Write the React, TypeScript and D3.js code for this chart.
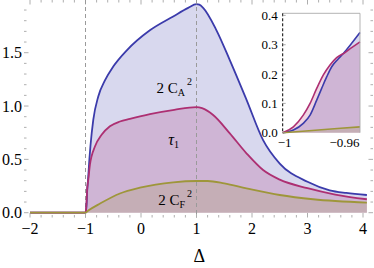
import React from "react";
import * as d3 from "d3";

type Pt = [number, number];

// 2 C_A^2 (blue)
const caPoints: Pt[] = [
  [-2, 0], [-1, 0], [-0.99, 0.02], [-0.98, 0.085], [-0.97, 0.205], [-0.96, 0.274],
  [-0.95, 0.342], [-0.93, 0.5], [-0.91, 0.63], [-0.86, 0.87], [-0.77, 1.09],
  [-0.65, 1.24], [-0.5, 1.37], [-0.26, 1.52], [0.16, 1.71], [0.58, 1.84],
  [0.85, 1.92], [1.0, 1.955], [1.05, 1.95], [1.12, 1.92], [1.36, 1.71],
  [1.6, 1.43], [1.9, 1.06], [2.2, 0.68], [2.5, 0.46], [3.0, 0.29], [3.4, 0.21],
  [3.7, 0.185], [4.07, 0.166],
];

// tau_1 (magenta)
const tauPoints: Pt[] = [
  [-2, 0], [-1, 0], [-0.99, 0.035], [-0.98, 0.11], [-0.97, 0.22], [-0.96, 0.272],
  [-0.95, 0.31], [-0.92, 0.45], [-0.83, 0.62], [-0.71, 0.73], [-0.56, 0.81],
  [-0.38, 0.855], [-0.2, 0.88], [0.16, 0.925], [0.6, 0.965], [1.0, 0.99],
  [1.1, 0.98], [1.3, 0.916], [1.6, 0.744], [1.9, 0.557], [2.2, 0.4], [2.5, 0.31],
  [3.0, 0.23], [3.5, 0.17], [4.07, 0.126],
];

// 2 C_F^2 (olive)
const cfPoints: Pt[] = [
  [-2, 0], [-1, 0], [-0.95, 0.02], [-0.73, 0.088], [-0.38, 0.18], [-0.02, 0.234],
  [0.58, 0.285], [1.0, 0.297], [1.2, 0.297], [1.5, 0.275], [1.9, 0.229],
  [2.5, 0.166], [3.1, 0.126], [4.07, 0.094],
];

// inset, zoomed on -1 .. -0.95
const insetCA: Pt[] = [
  [-1, 0], [-0.9931, 0.009], [-0.9867, 0.032], [-0.9823, 0.06], [-0.978, 0.111],
  [-0.9748, 0.151], [-0.9715, 0.191], [-0.9683, 0.225], [-0.964, 0.252],
  [-0.9597, 0.277], [-0.9554, 0.305], [-0.95, 0.342],
];
const insetTau: Pt[] = [
  [-1, 0], [-0.9931, 0.02], [-0.9867, 0.06], [-0.9823, 0.1], [-0.978, 0.151],
  [-0.9737, 0.197], [-0.9694, 0.231], [-0.9651, 0.256], [-0.9597, 0.273],
  [-0.9554, 0.29], [-0.95, 0.31],
];
const insetCF: Pt[] = [[-1, 0], [-0.975, 0.01], [-0.95, 0.02]];

const xMajor = [-2, -1, 0, 1, 2, 3, 4];
const yMajor = [0, 0.5, 1.0, 1.5];
const insetXTicks = [-1, -0.96];
const insetXLabels = ["\u22121", "\u22120.96"];
const insetYTicks = [0, 0.1, 0.2, 0.3, 0.4];
const dashedAt = [-1, 1];

const colors = ["#3b3bab", "#ad2f72", "#9e963a"];
const FONT = "Liberation Serif, Times New Roman, Times, serif";

export default function App() {
  const width = 374;
  const height = 268;
  const frame = { left: 24, right: 373, top: 0, bottom: 217.5 };

  const x = d3.scaleLinear().domain([-2, 4]).range([30, 363]);
  const y = d3.scaleLinear().domain([0, 1.5]).range([212.7, 52.7]);
  const ix = d3.scaleLinear().domain([-1, -0.95]).range([282.7, 360]);
  const iy = d3.scaleLinear().domain([0, 0.4]).range([132.7, 15.4]);

  const mkLine = (xs: any, ys: any) =>
    d3.line<Pt>().x((d) => xs(d[0])).y((d) => ys(d[1])).curve(d3.curveMonotoneX);
  const mkArea = (xs: any, ys: any) =>
    d3.area<Pt>().x((d) => xs(d[0])).y0(ys(0)).y1((d) => ys(d[1])).curve(d3.curveMonotoneX);

  const mainSeries = [caPoints, tauPoints, cfPoints];
  const insetSeries = [insetCA, insetTau, insetCF];

  const xMinor = d3.range(-2, 4.15, 0.2).filter((v) => !xMajor.some((m) => Math.abs(m - v) < 1e-6));
  const yMinor = d3.range(0, 2.0, 0.1).filter((v) => !yMajor.some((m) => Math.abs(m - v) < 1e-6));
  const fmtY = d3.format(".1f");
  const fmtX = d3.format("d");

  const tickColor = "#999";

  return (
    <svg
      width={width}
      height={height}
      style={{ position: "absolute", left: 0, top: 0, background: "#fff", fontFamily: FONT }}
    >
      {/* fills */}
      {mainSeries.map((s, i) => (
        <path key={"fa" + i} d={mkArea(x, y)(s) || ""} fill={colors[i]} fillOpacity={0.2} />
      ))}

      {/* dashed verticals */}
      {dashedAt.map((v) => (
        <line
          key={"dl" + v}
          x1={x(v)}
          x2={x(v)}
          y1={frame.top}
          y2={frame.bottom}
          stroke="#9a9a9a"
          strokeWidth={1}
          strokeDasharray="4,3"
        />
      ))}

      {/* curves */}
      {mainSeries.map((s, i) => (
        <path key={"ln" + i} d={mkLine(x, y)(s) || ""} fill="none" stroke={colors[i]} strokeWidth={1.8} />
      ))}

      {/* frame ticks */}
      <g stroke={tickColor} strokeWidth={0.8}>
        {xMajor.map((v) => (
          <g key={"xM" + v}>
            <line x1={x(v)} x2={x(v)} y1={frame.bottom} y2={frame.bottom - 4.5} />
            <line x1={x(v)} x2={x(v)} y1={frame.top} y2={frame.top + 4.5} />
          </g>
        ))}
        {xMinor.map((v) => (
          <g key={"xm" + v}>
            <line x1={x(v)} x2={x(v)} y1={frame.bottom} y2={frame.bottom - 2.5} />
            <line x1={x(v)} x2={x(v)} y1={frame.top} y2={frame.top + 2.5} />
          </g>
        ))}
        {yMajor.map((v) => (
          <g key={"yM" + v}>
            <line x1={frame.left} x2={frame.left + 4.5} y1={y(v)} y2={y(v)} />
            <line x1={frame.right} x2={frame.right - 4.5} y1={y(v)} y2={y(v)} />
          </g>
        ))}
        {yMinor.map((v) => (
          <g key={"ym" + v}>
            <line x1={frame.left} x2={frame.left + 2.5} y1={y(v)} y2={y(v)} />
            <line x1={frame.right} x2={frame.right - 2.5} y1={y(v)} y2={y(v)} />
          </g>
        ))}
      </g>

      {/* tick labels */}
      <g fontSize={16} fill="#000">
        {xMajor.map((v) => (
          <text key={"xl" + v} x={x(v)} y={234} textAnchor="middle">
            {fmtX(v)}
          </text>
        ))}
        {yMajor.map((v) => (
          <text key={"yl" + v} x={frame.left - 2} y={y(v)} dy="0.35em" textAnchor="end">
            {fmtY(v)}
          </text>
        ))}
      </g>
      <text x={x(1.05)} y={262} textAnchor="middle" fontSize={18}>
        Δ
      </text>

      {/* curve labels */}
      <g fontSize={15} fill="#000">
        <text x={x(0.28)} y={y(1.12)}>
          2 C
          <tspan dy={3} fontSize={10}>A</tspan>
          <tspan dx={2} dy={-11} fontSize={10}>2</tspan>
        </text>
        <text x={x(0.49)} y={y(0.635)}>
          <tspan fontStyle="italic" fontSize={16}>τ</tspan>
          <tspan dy={3} fontSize={10}>1</tspan>
        </text>
        <text x={x(0.31)} y={y(0.07)}>
          2 C
          <tspan dy={3} fontSize={10}>F</tspan>
          <tspan dx={2} dy={-11} fontSize={10}>2</tspan>
        </text>
      </g>

      {/* inset */}
      <g>
        <rect
          x={ix(-1)}
          y={13.3}
          width={ix(-0.95) - ix(-1)}
          height={iy(0) - 13.3}
          fill="#fff"
        />
        {insetSeries.map((s, i) => (
          <path key={"ifa" + i} d={mkArea(ix, iy)(s) || ""} fill={colors[i]} fillOpacity={0.2} />
        ))}
        {insetSeries.map((s, i) => (
          <path key={"iln" + i} d={mkLine(ix, iy)(s) || ""} fill="none" stroke={colors[i]} strokeWidth={1.6} />
        ))}
        <polyline
          points={`${ix(-1)},13.3 ${ix(-0.95)},13.3 ${ix(-0.95)},${iy(0)}`}
          fill="none"
          stroke="#aaa"
          strokeWidth={0.9}
        />
        <line
          x1={ix(-1)}
          x2={ix(-1)}
          y1={13.3}
          y2={iy(0)}
          stroke="#000"
          strokeWidth={1}
          strokeDasharray="3,2"
        />
        <g stroke={tickColor} strokeWidth={0.8}>
          {insetYTicks.map((v) => (
            <line key={"iyt" + v} x1={ix(-1)} x2={ix(-1) + 3} y1={iy(v)} y2={iy(v)} />
          ))}
        </g>
        <g fontSize={13} fill="#000">
          {insetYTicks.map((v) => (
            <text key={"iyl" + v} x={ix(-1) - 5} y={iy(v)} dy="0.35em" textAnchor="end">
              {fmtY(v)}
            </text>
          ))}
          {insetXTicks.map((v, i) => (
            <text key={"ixl" + v} x={ix(v) + (i === 0 ? 2 : 0)} y={146.5} textAnchor="middle">
              {insetXLabels[i]}
            </text>
          ))}
        </g>
      </g>
    </svg>
  );
}
